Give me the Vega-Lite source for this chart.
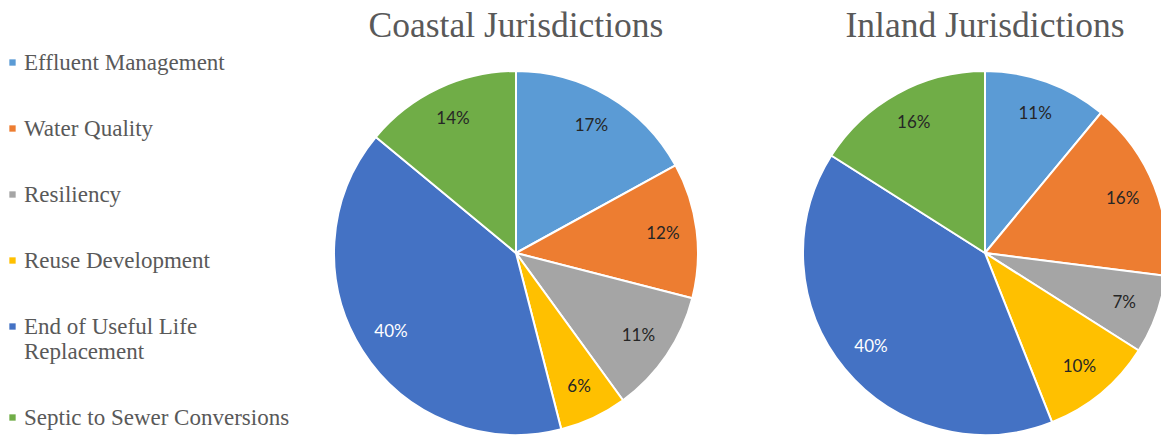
{
  "$schema": "https://vega.github.io/schema/vega-lite/v6.json",
  "autosize": {"type": "pad"},
  "padding": {"left": 1, "top": 8, "right": 0, "bottom": 0},
  "background": "white",
  "data": {
    "values": [
      {"region": "Coastal Jurisdictions", "category": "Effluent Management", "idx": 1, "share": 0.17},
      {"region": "Coastal Jurisdictions", "category": "Water Quality", "idx": 2, "share": 0.12},
      {"region": "Coastal Jurisdictions", "category": "Resiliency", "idx": 3, "share": 0.11},
      {"region": "Coastal Jurisdictions", "category": "Reuse Development", "idx": 4, "share": 0.06},
      {"region": "Coastal Jurisdictions", "category": "End of Useful Life Replacement", "idx": 5, "share": 0.40},
      {"region": "Coastal Jurisdictions", "category": "Septic to Sewer Conversions", "idx": 6, "share": 0.14},
      {"region": "Inland Jurisdictions", "category": "Effluent Management", "idx": 1, "share": 0.11},
      {"region": "Inland Jurisdictions", "category": "Water Quality", "idx": 2, "share": 0.16},
      {"region": "Inland Jurisdictions", "category": "Resiliency", "idx": 3, "share": 0.07},
      {"region": "Inland Jurisdictions", "category": "Reuse Development", "idx": 4, "share": 0.10},
      {"region": "Inland Jurisdictions", "category": "End of Useful Life Replacement", "idx": 5, "share": 0.40},
      {"region": "Inland Jurisdictions", "category": "Septic to Sewer Conversions", "idx": 6, "share": 0.16}
    ]
  },
  "facet": {
    "column": {
      "field": "region",
      "type": "nominal",
      "sort": ["Coastal Jurisdictions", "Inland Jurisdictions"],
      "header": {
        "title": null,
        "labelFont": "Liberation Serif, Times New Roman, serif",
        "labelFontSize": 35.5,
        "labelColor": "#595959",
        "labelPadding": 23
      }
    }
  },
  "spacing": 97,
  "spec": {
    "width": 364,
    "height": 364,
    "encoding": {
      "theta": {"field": "share", "type": "quantitative", "stack": true, "scale": {"domain": [0, 1]}},
      "order": {"field": "idx", "type": "quantitative", "sort": "ascending"}
    },
    "layer": [
      {
        "mark": {"type": "arc", "stroke": "white", "strokeWidth": 2},
        "encoding": {
          "color": {
            "field": "category",
            "type": "nominal",
            "sort": ["Effluent Management", "Water Quality", "Resiliency", "Reuse Development", "End of Useful Life Replacement", "Septic to Sewer Conversions"],
            "scale": {
              "domain": ["Effluent Management", "Water Quality", "Resiliency", "Reuse Development", "End of Useful Life Replacement", "Septic to Sewer Conversions"],
              "range": ["#5B9BD5", "#ED7D31", "#A5A5A5", "#FFC000", "#4472C4", "#70AD47"]
            },
            "legend": {
              "title": null,
              "orient": "none",
              "legendX": -333,
              "legendY": -20,
              "padding": 0,
              "symbolType": "square",
              "symbolSize": 40,
              "symbolStrokeWidth": 0,
              "labelFont": "Liberation Serif, Times New Roman, serif",
              "labelFontSize": 23,
              "labelColor": "#595959",
              "labelLimit": 400,
              "labelOffset": 0,
              "rowPadding": 42,
              "labelExpr": "datum.label === 'End of Useful Life Replacement' ? ['End of Useful Life', 'Replacement'] : datum.label"
            }
          }
        }
      },
      {
        "mark": {"type": "text", "radius": 148, "font": "Lato", "fontSize": 17},
        "encoding": {
          "text": {"field": "share", "type": "quantitative", "format": ".0%"},
          "color": {
            "condition": {"test": "datum.idx === 5", "value": "white"},
            "value": "#262626"
          }
        }
      }
    ]
  },
  "config": {
    "view": {"stroke": null}
  }
}
